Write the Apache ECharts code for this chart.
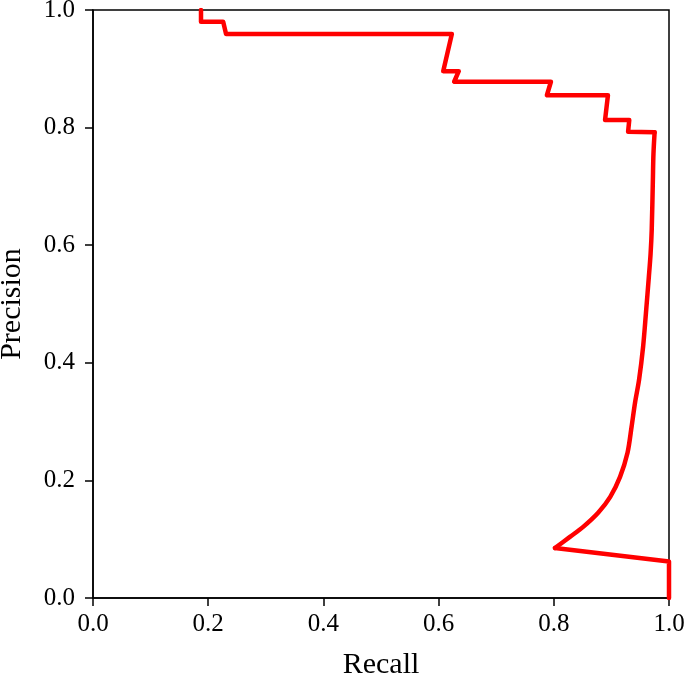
<!DOCTYPE html>
<html>
<head>
<meta charset="utf-8">
<script src="https://cdn.jsdelivr.net/npm/echarts@6/dist/echarts.min.js"></script>
<style>
html,body{margin:0;padding:0;background:#fff;}
#main{width:685px;height:675px;}
</style>
</head>
<body>
<div id="main"></div>
<script>
// precision-recall curve
var recall = [0.1875, 0.1875, 0.226, 0.231, 0.623, 0.608, 0.635, 0.627, 0.795, 0.788, 0.894, 0.889, 0.931, 0.929,
  0.975, 0.973, 0.972, 0.970, 0.968, 0.965, 0.960, 0.955, 0.948, 0.941, 0.935, 0.928, 0.915, 0.898, 0.877, 0.851, 0.828, 0.802, 1.0, 1.0];
var precision = [1.0, 0.980, 0.980, 0.959, 0.959, 0.896, 0.896, 0.878, 0.878, 0.855, 0.855, 0.813, 0.813, 0.793,
  0.792, 0.755, 0.711, 0.626, 0.585, 0.546, 0.485, 0.427, 0.371, 0.332, 0.291, 0.247, 0.206, 0.172, 0.145, 0.121, 0.104, 0.085, 0.062, 0.0];
// where the stepped part ends and the smooth tail starts
var stepEnd = 14;
var curveEnd = 31;

var points = [];
for (var i = 0; i < recall.length; i++) {
  points.push([recall[i], precision[i]]);
}

var font = 'Liberation Serif, DejaVu Serif, serif';
var myChart = echarts.init(document.getElementById('main'));

function axisCommon(name, gap, labelMargin) {
  return {
    type: 'value',
    min: 0,
    max: 1,
    interval: 0.2,
    name: name,
    nameLocation: 'middle',
    nameGap: gap,
    nameTextStyle: {fontFamily: font, fontSize: 30, color: '#000'},
    axisLine: {show: true, lineStyle: {color: '#000', width: 1.5}},
    axisTick: {show: true, length: 8, lineStyle: {color: '#000', width: 1.5}},
    axisLabel: {
      fontFamily: font, fontSize: 25, color: '#000', margin: labelMargin,
      formatter: function (v) { return v.toFixed(1); }
    },
    splitLine: {show: false}
  };
}

function part(data, smooth) {
  return {
    type: 'line',
    data: data,
    symbol: 'none',
    smooth: smooth,
    lineStyle: {color: '#ff0000', width: 4.5, join: 'round', cap: 'round'},
    z: 3
  };
}

var option = {
  animation: false,
  backgroundColor: '#fff',
  grid: {
    left: 93, right: 16, top: 10, bottom: 77,
    outerBoundsMode: 'none',
    containLabel: false,
    show: true, borderColor: '#000', borderWidth: 1.5
  },
  xAxis: axisCommon('Recall', 52, 14),
  yAxis: axisCommon('Precision', 66, 18),
  series: [
    part(points.slice(0, stepEnd + 1), false),
    part(points.slice(stepEnd, curveEnd + 1), 0.3),
    part(points.slice(curveEnd), false)
  ]
};
myChart.setOption(option);
</script>
</body>
</html>
